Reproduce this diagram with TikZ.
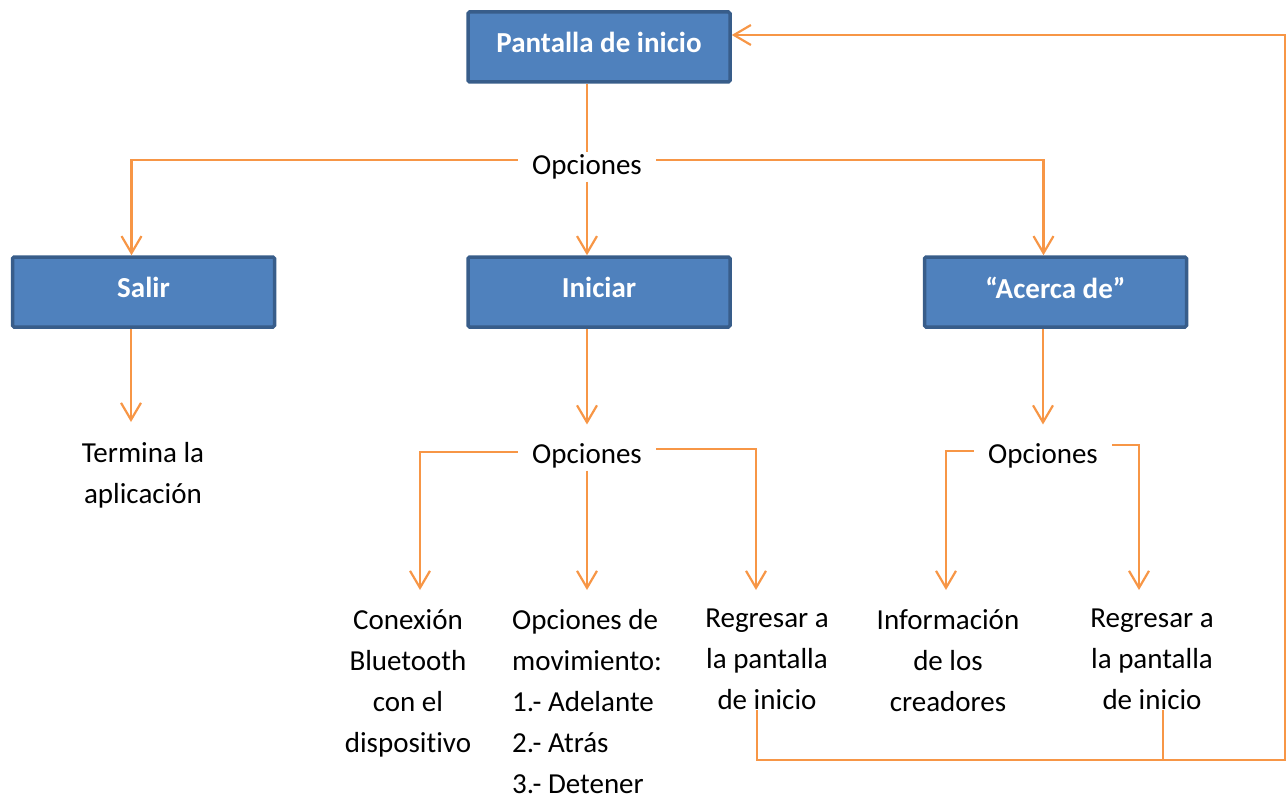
\documentclass[tikz,border=0pt]{standalone}
\usepackage{fontspec}
\setmainfont{Carlito}[RawFeature={-liga}]
\usepackage{tikz}
\usetikzlibrary{arrows.meta,positioning}
\definecolor{azulcaja}{HTML}{4F81BD}
\definecolor{bordecaja}{HTML}{385D8A}
\definecolor{naranja}{HTML}{F79646}

\begin{document}
\begin{tikzpicture}[x=1pt,y=1pt,
		caja/.style={draw=bordecaja,fill=azulcaja,line width=3.5pt,rounded corners=1.5pt,minimum width=262pt,minimum height=70pt,text depth=9pt,text=white,font=\bfseries},
		opc/.style={inner xsep=14pt,inner ysep=2pt},
		hoja/.style={align=center,anchor=north,inner sep=0pt,execute at begin node={\vphantom{Ó}}},
		linea/.style={draw=naranja,line width=2.2pt},
		flecha/.style={linea,-{Straight Barb[length=17pt,width=20pt,line width=2.2pt]}}]
		\fontsize{29}{41}\selectfont
		\useasboundingbox (0,0) rectangle (1288,-800);
		% cajas
		\node[caja] (inicio) at (599,-47) {Pantalla de inicio};
		\node[caja] (salir) at (143.5,-292) {Salir};
		\node[caja] (iniciar) at (599,-292) {Iniciar};
		\node[caja] (acerca) at (1055.5,-292) {``Acerca de''};
		% opciones
		\node[opc] (op1) at (587,-167) {Opciones};
		\node[opc] (op2) at (587,-456) {Opciones};
		\node[opc] (op3) at (1043,-456) {Opciones};
		% textos
		\node[hoja] (termina) at (143,-442) {Termina la\\aplicación};
		\node[hoja] (conex) at (408,-609) {Conexión\\Bluetooth\\con el\\dispositivo};
		\node[hoja,align=left,anchor=north west] (mov) at (512,-609) {Opciones de\\movimiento:\\1.- Adelante\\2.- Atrás\\3.- Detener};
		\node[hoja] (reg1) at (767,-609) {Regresar a\\la pantalla\\de inicio};
		\node[hoja] (info) at (948,-609) {Información\\de los\\creadores};
		\node[hoja] (reg2) at (1152,-609) {Regresar a\\la pantalla\\de inicio};
		\coordinate (fin1) at (131,-422);
		\coordinate (vuelta) at (1285,-760);
		% conectores
		\draw[linea] (inicio.south -| op1) -- (op1.north);
		\draw[flecha] (op1.south) -- (iniciar.north -| op1);
		\draw[flecha] ([yshift=7pt]op1.west) -| ([xshift=-12pt]salir.north);
		\draw[flecha] ([yshift=7pt]op1.east) -| ([xshift=-12pt]acerca.north);
		\draw[flecha] (salir.south -| fin1) -- (fin1);
		\draw[flecha,shorten >=17pt] (iniciar.south -| op2) -- (op2.north);
		\draw[flecha,shorten >=17pt] (acerca.south -| op3) -- (op3.north);
		\draw[flecha,shorten >=19pt] ([yshift=4pt]op2.west) -| ([xshift=12pt]conex.north);
		\draw[flecha,shorten >=19pt] (op2.south) -- (op2.south |- mov.north);
		\draw[flecha,shorten >=19pt] ([yshift=7pt]op2.east) -| ([xshift=-11pt]reg1.north);
		\draw[flecha,shorten >=19pt] ([yshift=5pt]op3.west) -| ([xshift=-2pt]info.north);
		\draw[flecha,shorten >=19pt] ([yshift=11pt]op3.east) -| ([xshift=-13pt]reg2.north);
		\draw[flecha] ([xshift=-10pt]reg1.south) |- (vuelta) |- ([yshift=12pt]inicio.east);
		\draw[linea] ([xshift=11pt]reg2.south) |- (vuelta);
\end{tikzpicture}
\end{document}
